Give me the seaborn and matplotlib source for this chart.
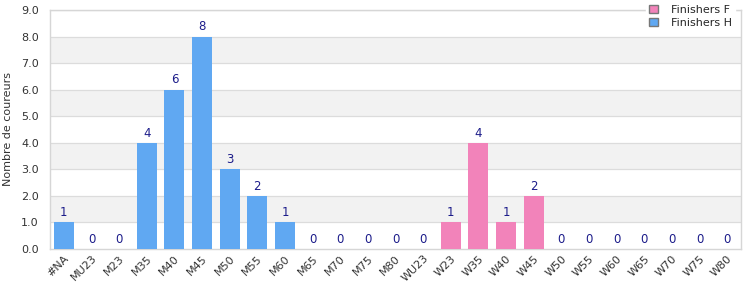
import matplotlib.pyplot as plt
import matplotlib.ticker as mticker
import seaborn as sns
import pandas as pd

categories = ["#NA", "MU23", "M23", "M35", "M40", "M45", "M50", "M55", "M60",
              "M65", "M70", "M75", "M80", "WU23", "W23", "W35", "W40", "W45",
              "W50", "W55", "W60", "W65", "W70", "W75", "W80"]
values = [1, 0, 0, 4, 6, 8, 3, 2, 1, 0, 0, 0, 0, 0, 1, 4, 1, 2,
          0, 0, 0, 0, 0, 0, 0]
series = ["Finishers H"] * 14 + ["Finishers F"] * 11
series_order = ["Finishers F", "Finishers H"]
colors = {"Finishers F": "#f283ba", "Finishers H": "#60a8f2"}

df = pd.DataFrame({"cat": categories, "val": values, "serie": series})

sns.set_theme(style="white")
plt.rcParams['font.family'] = ['DejaVu Sans']

fig = plt.figure(figsize=(7.5, 3), dpi=100)
ax = fig.add_axes([50 / 750, 51 / 300, 691 / 750, 239 / 300])

# alternating bands
for lo in [1, 3, 5, 7]:
    ax.axhspan(lo, lo + 1, color="#f2f2f2", zorder=0, lw=0)
for y in range(1, 10):
    ax.axhline(y, color="#dcdcdc", lw=0.9, zorder=1)

sns.barplot(data=df, x="cat", y="val", hue="serie", hue_order=series_order,
            palette=colors, dodge=False, width=0.72, order=categories,
            ax=ax, zorder=3, saturation=1, linewidth=0)

for i, v in enumerate(values):
    ax.text(i, v + 0.12, str(v), ha="center", va="bottom", fontsize=8.5,
            color="#1c1c8a", zorder=4)

ax.set_ylim(0, 9)
ax.set_xlim(-0.5, len(categories) - 0.5)
ax.yaxis.set_major_locator(mticker.MultipleLocator(1))
ax.yaxis.set_major_formatter(mticker.FormatStrFormatter("%.1f"))
ax.set_xlabel("")
ax.set_ylabel("Nombre de coureurs", fontsize=8, color="#333333", labelpad=6)
ax.tick_params(axis="y", labelsize=8, colors="#333333", length=0, pad=8)
ax.tick_params(axis="x", labelsize=8, colors="#333333", length=0, pad=3)
plt.setp(ax.get_xticklabels(), rotation=45, ha="right", rotation_mode="anchor")

for s in ax.spines.values():
    s.set_color("#d6d6d6")
    s.set_linewidth(1)

leg = ax.legend(loc="upper right", bbox_to_anchor=(1.0, 1.06), frameon=True,
                fontsize=8, handlelength=0.8, handleheight=0.8,
                handletextpad=1.2, borderpad=0.3, labelspacing=0.3)
leg.get_frame().set_facecolor("white")
leg.get_frame().set_edgecolor("white")
leg.get_frame().set_alpha(1)
for h in leg.legend_handles:
    h.set_edgecolor("#777777")
    h.set_linewidth(1)

fig.savefig("out.png", dpi=100)
